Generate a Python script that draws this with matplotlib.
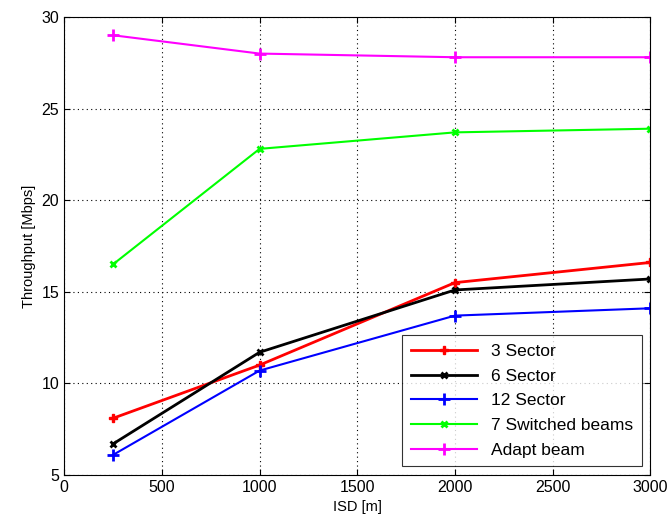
import matplotlib
matplotlib.use("Agg")
import matplotlib.pyplot as plt

plt.rcParams['font.family'] = ['Liberation Sans', 'DejaVu Sans']
plt.rcParams['font.size'] = 11

isd = [250, 1000, 2000, 3000]
sector3 = [8.1, 11.0, 15.5, 16.6]
sector6 = [6.7, 11.7, 15.1, 15.7]
sector12 = [6.1, 10.7, 13.7, 14.1]
switched7 = [16.5, 22.8, 23.7, 23.9]
adapt = [29.0, 28.0, 27.8, 27.8]

fig, ax = plt.subplots(figsize=(6.69, 5.29), dpi=100)
fig.subplots_adjust(left=0.096, right=0.972, top=0.968, bottom=0.102)

ax.plot(isd, sector3, color='red', lw=2, marker='P', ms=6, label='3 Sector')
ax.plot(isd, sector6, color='black', lw=2, marker='x', ms=5, mew=2, label='6 Sector')
ax.plot(isd, sector12, color='blue', lw=1.5, marker='+', ms=9, mew=2, label='12 Sector')
ax.plot(isd, switched7, color='#00ff00', lw=1.5, marker='x', ms=5, mew=2, label='7 Switched beams')
ax.plot(isd, adapt, color='magenta', lw=1.5, marker='+', ms=9, mew=2, label='Adapt beam')

ax.set_xlim(0, 3000)
ax.set_ylim(5, 30)
ax.set_xticks(range(0, 3001, 500))
ax.set_yticks(range(5, 31, 5))
ax.grid(True, color='black', linestyle=(0, (1, 3)), linewidth=0.8)
ax.tick_params(direction='in', top=True, right=True, length=4, labelsize=11.5)
ax.set_xlabel('ISD [m]', fontsize=10.5)
ax.set_ylabel('Throughput [Mbps]', fontsize=10.5)

leg = ax.legend(loc='lower right', fancybox=False, edgecolor='black',
                borderaxespad=0.5, handlelength=3.8, fontsize=12.5,
                labelspacing=0.55, borderpad=0.5)
leg.get_frame().set_linewidth(0.8)

fig.savefig('out.png')
